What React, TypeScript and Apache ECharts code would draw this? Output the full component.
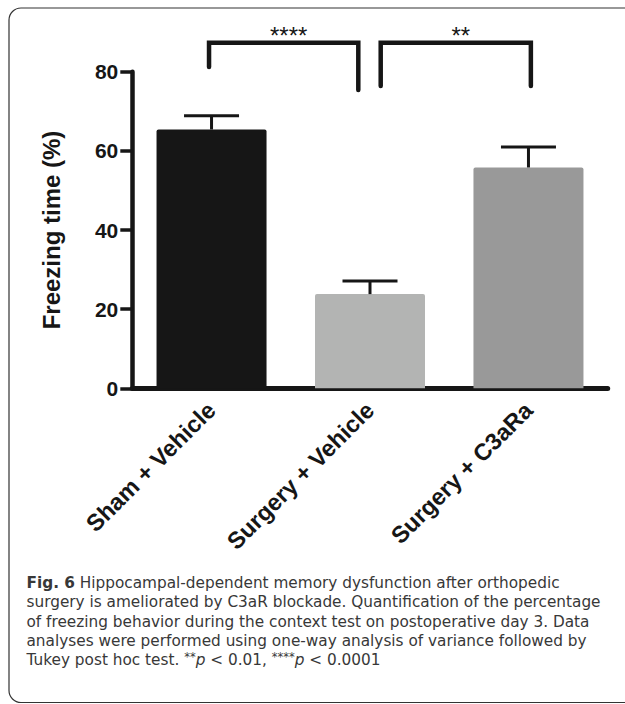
import React, { useEffect, useRef } from "react";
import * as echarts from "echarts";

// ---- data ----
const categories = ["Sham + Vehicle", "Surgery + Vehicle", "Surgery + C3aRa"];
const means = [65.4, 23.8, 55.8];
const errorUpper = [68.9, 27.1, 61.0];
const barColors = ["#161616", "#b3b4b3", "#999999"];

const yMin = 0;
const yMax = 80;
const yInterval = 20;
const yAxisTitle = "Freezing time (%)";

// significance brackets: from category, to category, top value, left-leg end, right-leg end
const bracketFrom = [0, 1];
const bracketTo = [1, 2];
const bracketTop = [87.3, 87.3];
const bracketLeftEnd = [81.2, 76.4];
const bracketRightEnd = [75.4, 76.4];
const bracketLabels = ["****", "**"];

const captionLines = [
  "{b|Fig. 6} Hippocampal-dependent memory dysfunction after orthopedic",
  "surgery is ameliorated by C3aR blockade. Quantification of the percentage",
  "of freezing behavior during the context test on postoperative day 3. Data",
  "analyses were performed using one-way analysis of variance followed by",
  "Tukey post hoc test. {s|**}{i|p} < 0.01, {s|****}{i|p} < 0.0001",
];

// ---- styles ----
const INK = "#161616";
const AXIS_FONT = "'Liberation Sans', Arial, Helvetica, sans-serif";
const CAPTION_FONT = "'DejaVu Sans', sans-serif";
const CAPTION_SIZE = 15.3;
const CAPTION_LH = 19.4;
const CAPTION_COLOR = "#383838";
// pixel nudges of the bracket legs relative to category centres
const bracketLegNudge = [
  [-2.5, -11.7],
  [10.7, 2.4],
];

export default function App() {
  const ref = useRef<HTMLDivElement>(null);

  useEffect(() => {
    document.body.style.margin = "0";
    document.body.style.overflow = "hidden";
    const chart = echarts.init(ref.current!, null, { renderer: "svg" });

    const option: any = {
      animation: false,
      backgroundColor: "#ffffff",
      grid: { left: 132.3, right: 17.3, top: 71.7, bottom: 315.7, containLabel: false },
      xAxis: {
        type: "category",
        data: categories,
        axisLine: { lineStyle: { color: INK, width: 5 } },
        axisTick: { alignWithLabel: true, length: 12, lineStyle: { color: INK, width: 4.5 } },
        axisLabel: {
          rotate: 45,
          margin: 18,
          color: INK,
          fontWeight: "bold",
          fontSize: 23.5,
          fontFamily: AXIS_FONT,
          interval: 0,
        },
        splitLine: { show: false },
      },
      yAxis: {
        type: "value",
        min: yMin,
        max: yMax,
        interval: yInterval,
        name: yAxisTitle,
        nameLocation: "middle",
        nameGap: 69,
        nameTextStyle: { color: INK, fontWeight: "bold", fontSize: 24, fontFamily: AXIS_FONT },
        axisLine: { show: true, lineStyle: { color: INK, width: 4.5 } },
        axisTick: { show: true, length: 12, lineStyle: { color: INK, width: 3.5 } },
        axisLabel: {
          margin: 14,
          color: INK,
          fontWeight: "bold",
          fontSize: 21,
          fontFamily: AXIS_FONT,
        },
        splitLine: { show: false },
      },
      series: [
        {
          type: "bar",
          barWidth: 110,
          data: means.map((v, i) => ({
            value: v,
            itemStyle: { color: barColors[i], borderRadius: [2, 2, 0, 0] },
          })),
          z: 2,
        },
        {
          type: "custom",
          z: 3,
          clip: false,
          data: means.map((m, i) => [i, m, errorUpper[i]]),
          encode: { x: 0, y: [1, 2] },
          renderItem: (params: any, api: any) => {
            const x = api.value(0);
            const lo = api.coord([x, api.value(1)]);
            const hi = api.coord([x, api.value(2)]);
            const st = { stroke: INK, lineWidth: 3 };
            return {
              type: "group",
              children: [
                { type: "line", shape: { x1: lo[0], y1: lo[1], x2: hi[0], y2: hi[1] }, style: st },
                { type: "line", shape: { x1: hi[0] - 27.5, y1: hi[1], x2: hi[0] + 27.5, y2: hi[1] }, style: st },
              ],
            };
          },
        },
        {
          type: "custom",
          z: 4,
          clip: false,
          data: bracketFrom.map((f, i) => [f, bracketTo[i], bracketTop[i], bracketLeftEnd[i], bracketRightEnd[i]]),
          encode: { x: [0, 1], y: [2, 3, 4] },
          renderItem: (params: any, api: any) => {
            const i = params.dataIndex;
            const nudge = bracketLegNudge[i];
            const pTopL = api.coord([api.value(0), api.value(2)]);
            const pTopR = api.coord([api.value(1), api.value(2)]);
            const pL = api.coord([api.value(0), api.value(3)]);
            const pR = api.coord([api.value(1), api.value(4)]);
            const xL = pTopL[0] + nudge[0];
            const xR = pTopR[0] + nudge[1];
            return {
              type: "group",
              children: [
                {
                  type: "polyline",
                  shape: {
                    points: [
                      [xL, pL[1]],
                      [xL, pTopL[1]],
                      [xR, pTopR[1]],
                      [xR, pR[1]],
                    ],
                  },
                  style: { stroke: INK, lineWidth: 4.5, fill: "none", lineJoin: "miter", lineCap: "round" },
                },
                {
                  type: "text",
                  x: (xL + xR) / 2 + 5,
                  y: pTopL[1] - 7,
                  style: {
                    text: bracketLabels[i],
                    fontSize: 24,
                    fontFamily: AXIS_FONT,
                    fill: INK,
                    align: "center",
                    verticalAlign: "middle",
                  },
                },
              ],
            };
          },
        },
      ],
      graphic: [
        {
          type: "rect",
          shape: { x: 9, y: 8, width: 700, height: 694.5, r: 12 },
          style: { fill: "none", stroke: "#333333", lineWidth: 1.2 },
          silent: true,
        },
        {
          type: "text",
          x: 26.5,
          y: 582.7 - CAPTION_LH / 2,
          style: {
            text: captionLines.join("\n"),
            fontSize: CAPTION_SIZE,
            lineHeight: CAPTION_LH,
            fontFamily: CAPTION_FONT,
            fill: CAPTION_COLOR,
            verticalAlign: "top",
            align: "left",
            rich: {
              b: { fontWeight: "bold", fontSize: CAPTION_SIZE, lineHeight: CAPTION_LH, fontFamily: CAPTION_FONT, fill: CAPTION_COLOR },
              i: { fontStyle: "italic", fontSize: CAPTION_SIZE, lineHeight: CAPTION_LH, fontFamily: CAPTION_FONT, fill: CAPTION_COLOR },
              s: { fontSize: 11.5, lineHeight: CAPTION_LH, fontFamily: CAPTION_FONT, fill: CAPTION_COLOR, verticalAlign: "top" },
            },
          },
        },
      ],
    };

    chart.setOption(option);
    return () => chart.dispose();
  }, []);

  return <div ref={ref} style={{ width: 625, height: 704 }} />;
}
